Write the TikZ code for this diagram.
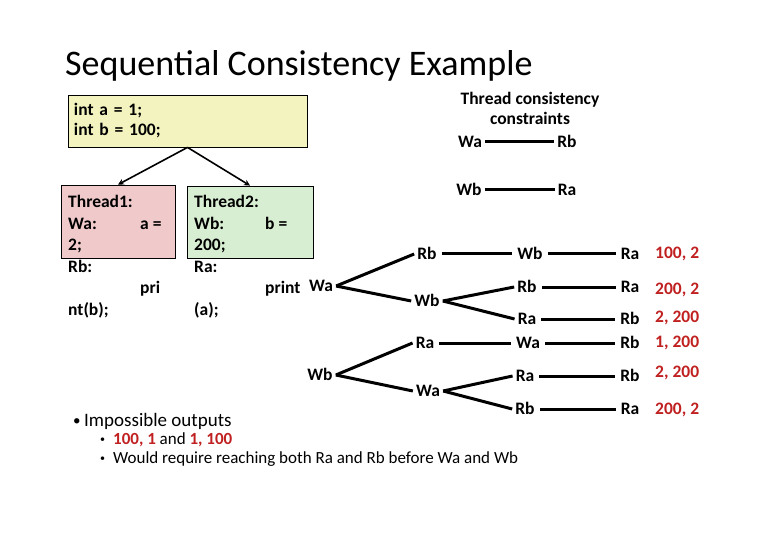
\documentclass[tikz,border=0pt]{standalone}
\usepackage{fontspec}
\setmainfont{Carlito}
\usetikzlibrary{arrows.meta}
\definecolor{initfill}{RGB}{243,243,192}
\definecolor{onefill}{RGB}{240,202,202}
\definecolor{twofill}{RGB}{216,238,210}
\definecolor{outred}{RGB}{192,32,32}

\begin{document}
\begin{tikzpicture}[
  x=1bp, y=-1bp,
  codebox/.style={
    draw,
    line width=0.8bp,
    rectangle,
    inner sep=0pt
  },
  code/.style={
    align=left,
    anchor=north west,
    inner sep=0pt,
    font=\fontsize{17.5bp}{21.6bp}\selectfont\bfseries
  },
  op/.style={
    font=\fontsize{17.5bp}{21bp}\selectfont\bfseries,
    text height=11bp,
    text depth=0pt,
    inner sep=3bp
  },
  outval/.style={
    anchor=west,
    inner sep=0pt,
    text=outred,
    font=\fontsize{17.5bp}{21bp}\selectfont\bfseries,
    text height=11bp,
    text depth=0pt
  },
  arr/.style={-{Stealth[length=6bp,width=6bp]}, line width=1.6bp},
  link/.style={line width=3bp},
  seq/.style={line width=3bp, shorten <=2bp, shorten >=2bp}
]
\useasboundingbox (0,0) rectangle (780,540);

\node[anchor=base west, inner sep=0pt, font=\fontsize{36bp}{40bp}\selectfont] (title) at (65,76) {Sequential Consistency Example};

% Code boxes
\node[codebox, fill=initfill, minimum width=239bp, minimum height=52bp,
      align=left, text width=227bp, font=\fontsize{17.5bp}{20bp}\selectfont\bfseries]
      (init) at (187.5,121) {int a = 1;\\int b = 100;};
\node[codebox, fill=onefill, minimum width=114bp, minimum height=73bp] (t1box) at (118,221.5) {};
\node[codebox, fill=twofill, minimum width=126bp, minimum height=72bp] (t2box) at (250,222) {};

\node[code] (t1) at (68,195) {Thread1:\\\makebox[72bp][l]{Wa:}a =\\2;\\Rb:\\\hspace*{72bp}pri\\nt(b);};
\node[code] (t2) at (194,195) {Thread2:\\\makebox[71bp][l]{Wb:}b =\\200;\\Ra:\\\hspace*{71bp}print\\(a);};

\draw[arr] (init.south) -- (t1box.north);
\draw[arr] (init.south) -- (t2box.north);

% Thread consistency constraints
\node[align=center, inner sep=0pt, font=\fontsize{17.5bp}{20bp}\selectfont\bfseries] (cons) at (530,108) {Thread consistency\\constraints};
\node[op] (cwa) at (470,142) {Wa};
\node[op] (crb) at (567,142) {Rb};
\node[op] (cwb) at (469,190) {Wb};
\node[op] (cra) at (567,190) {Ra};
\draw[link] (cwa.east) -- (crb.west);
\draw[link] (cwb.east) -- (cra.west);

% Orderings starting with Wa
\node[op] (rwa) at (321,286) {Wa};
\node[op] (rb1) at (427,254) {Rb};
\node[op] (wb1) at (427,301) {Wb};
\node[op] (wb2) at (530,254) {Wb};
\node[op] (rb2) at (527,287) {Rb};
\node[op] (ra2) at (527,319) {Ra};
\node[op] (ra4) at (630,254) {Ra};
\node[op] (ra5) at (630,287) {Ra};
\node[op] (rb4) at (630,319) {Rb};

% Orderings starting with Wb
\node[op] (rwb) at (320,375) {Wb};
\node[op] (ra1) at (425,343) {Ra};
\node[op] (wa1) at (428,391) {Wa};
\node[op] (wa2) at (528,343) {Wa};
\node[op] (ra3) at (525,376) {Ra};
\node[op] (rb3) at (525,409) {Rb};
\node[op] (rb5) at (630,343) {Rb};
\node[op] (rb6) at (630,376) {Rb};
\node[op] (ra6) at (630,409) {Ra};

\draw[link] (rwa.east) -- (rb1.west);
\draw[link] (rwa.east) -- (wb1.west);
\draw[seq] (rb1) -- (wb2);
\draw[seq] (wb2) -- (ra4);
\draw[link] (wb1.east) -- (rb2.west);
\draw[link] (wb1.east) -- (ra2.west);
\draw[seq] (rb2) -- (ra5);
\draw[seq] (ra2) -- (rb4);

\draw[link] (rwb.east) -- (ra1.west);
\draw[link] (rwb.east) -- (wa1.west);
\draw[seq] (ra1) -- (wa2);
\draw[seq] (wa2) -- (rb5);
\draw[link] (wa1.east) -- (ra3.west);
\draw[link] (wa1.east) -- (rb3.west);
\draw[seq] (ra3) -- (rb6);
\draw[seq] (rb3) -- (ra6);

% Printed values
\node[outval] (o1) at (655,253) {100, 2};
\node[outval] (o2) at (655,289) {200, 2};
\node[outval] (o3) at (655,317) {2, 200};
\node[outval] (o4) at (655,342) {1, 200};
\node[outval] (o5) at (655,372) {2, 200};
\node[outval] (o6) at (655,409) {200, 2};

% Impossible outputs
\node[anchor=base west, inner sep=0pt, font=\fontsize{19bp}{22bp}\selectfont] (imp) at (73,426) {\makebox[11bp][l]{\raisebox{1bp}{\fontsize{15bp}{16bp}\selectfont•}}Impossible outputs};
\node[anchor=base west, inner sep=0pt, font=\fontsize{17bp}{20bp}\selectfont] (imp1) at (100,444.5) {\makebox[13bp][l]{\raisebox{2.5bp}{\fontsize{10bp}{12bp}\selectfont•}}{\bfseries\color{outred}100, 1} and {\bfseries\color{outred}1, 100}};
\node[anchor=base west, inner sep=0pt, font=\fontsize{17bp}{20bp}\selectfont] (imp2) at (100,463.5) {\makebox[13bp][l]{\raisebox{2.5bp}{\fontsize{10bp}{12bp}\selectfont•}}Would require reaching both Ra and Rb before Wa and Wb};

\end{tikzpicture}
\end{document}
